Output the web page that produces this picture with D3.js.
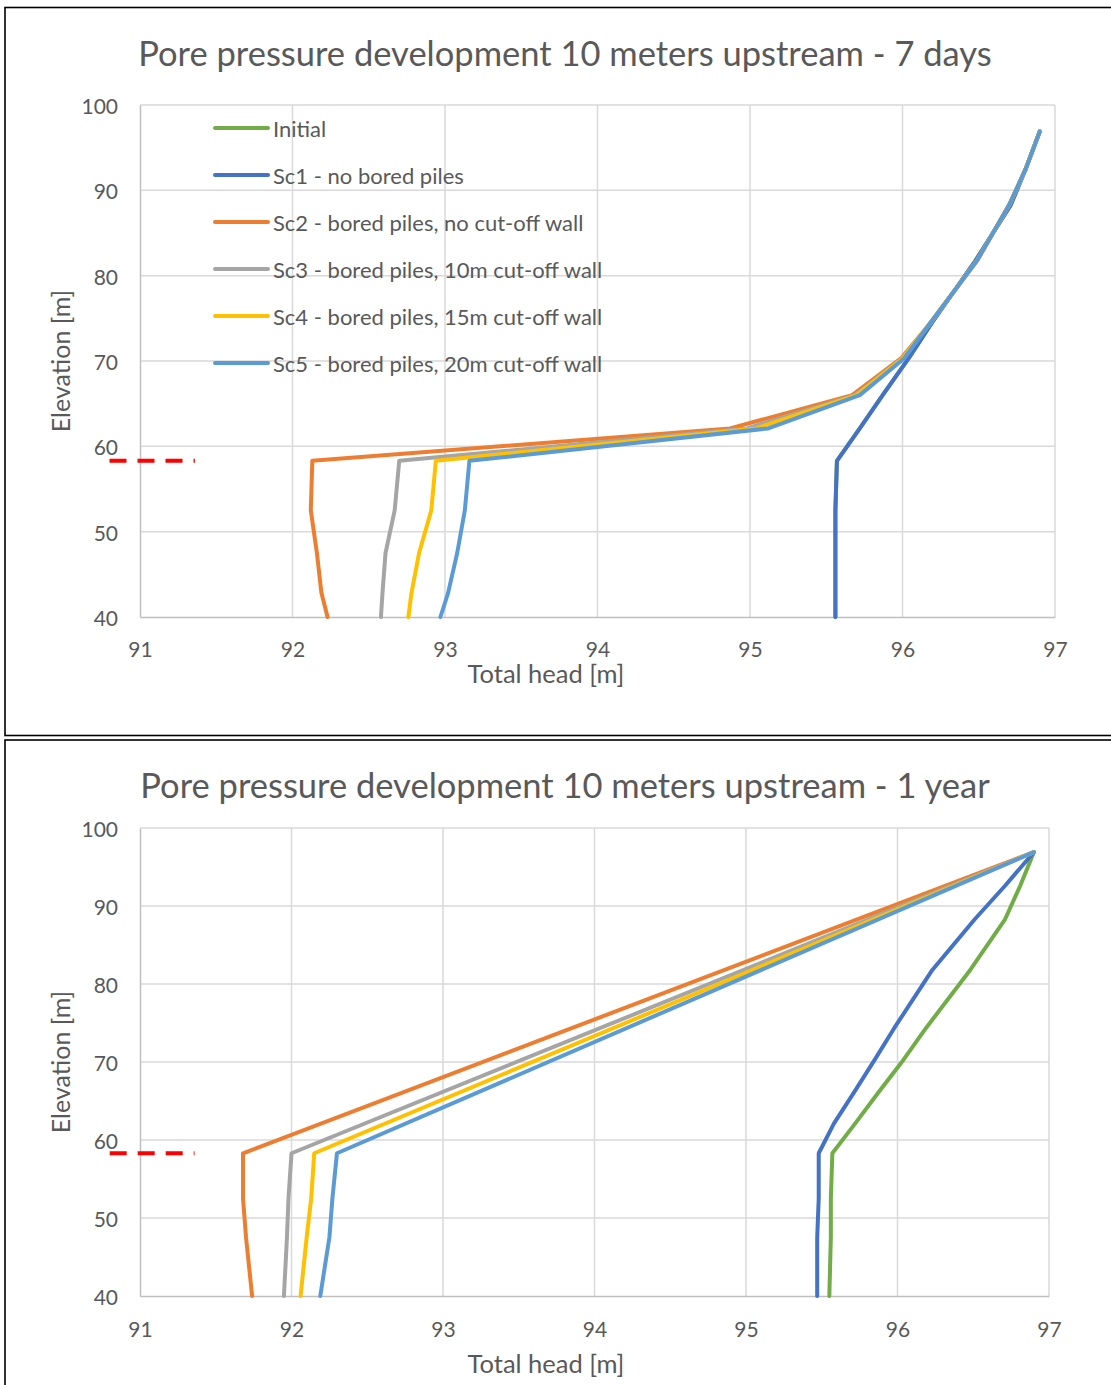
<!DOCTYPE html>
<html>
<head>
<meta charset="utf-8">
<script src="https://cdn.jsdelivr.net/npm/d3@7"></script>
<style>
  body { margin: 0; background: #fff; }
  svg { display: block; }
  text { font-family: Lato, "Open Sans", sans-serif; fill: #595959; }
</style>
</head>
<body>
<svg id="chart" width="1111" height="1385"></svg>
<script>
// Axis ticks shared by both panels
const headTicks = [91, 92, 93, 94, 95, 96, 97];
const elevTicks = [40, 50, 60, 70, 80, 90, 100];

// Series names and colours
const seriesNames = [
  "Initial",
  "Sc1 - no bored piles",
  "Sc2 - bored piles, no cut-off wall",
  "Sc3 - bored piles, 10m cut-off wall",
  "Sc4 - bored piles, 15m cut-off wall",
  "Sc5 - bored piles, 20m cut-off wall"
];
const seriesColors = ["#70AD47", "#4472C4", "#ED7D31", "#A5A5A5", "#FFC000", "#5B9BD5"];

// 7 days: elevation [m] and total head [m]
const elev7d = [40, 42.8, 47.5, 52.5, 58.3, 62.1, 66.0, 70.3, 74.4, 81.8, 88.3, 92.6, 96.9];
const initial7d = [95.56, 95.56, 95.56, 95.56, 95.57, 95.72, 95.87, 96.04, 96.19, 96.48, 96.71, 96.81, 96.90];
const sc1_7d    = [95.56, 95.56, 95.56, 95.56, 95.57, 95.72, 95.87, 96.04, 96.19, 96.48, 96.71, 96.81, 96.90];
const sc2_7d    = [92.23, 92.19, 92.16, 92.12, 92.13, 94.87, 95.67, 95.99, 96.18, 96.49, 96.70, 96.81, 96.90];
const sc3_7d    = [92.58, 92.59, 92.61, 92.67, 92.70, 94.98, 95.69, 96.00, 96.18, 96.49, 96.70, 96.81, 96.90];
const sc4_7d    = [92.76, 92.78, 92.83, 92.91, 92.94, 95.04, 95.70, 96.00, 96.18, 96.49, 96.70, 96.81, 96.90];
const sc5_7d    = [92.97, 93.02, 93.08, 93.13, 93.16, 95.12, 95.72, 96.01, 96.18, 96.49, 96.70, 96.81, 96.90];

// 1 year: elevation [m] and total head [m]
const elev1y = [40, 47.5, 52.5, 58.3, 62.1, 66.0, 70.3, 74.4, 81.8, 88.3, 92.6, 96.9];
const initial1y = [95.55, 95.56, 95.56, 95.57, 95.72, 95.87, 96.04, 96.19, 96.48, 96.71, 96.81, 96.90];
const sc1_1y    = [95.47, 95.47, 95.48, 95.48, 95.58, 95.71, 95.85, 95.98, 96.23, 96.51, 96.71, 96.90];
const elevPiles1y = [40, 47.5, 52.5, 58.3, 96.9];
const sc2_1y    = [91.74, 91.70, 91.68, 91.68, 96.90];
const sc3_1y    = [91.95, 91.97, 91.98, 92.00, 96.90];
const sc4_1y    = [92.06, 92.10, 92.13, 92.15, 96.90];
const sc5_1y    = [92.19, 92.25, 92.27, 92.30, 96.90];

// Marker for the toe elevation drawn left of the axis
const toeElevation = 58.3;
const toeHeadRange = [90.80, 91.36];

const svg = d3.select("#chart");

function zip(heads, elevs) {
  return heads.map((h, i) => ({ head: h, elev: elevs[i] }));
}

function drawPanel(cfg) {
  const g = svg.append("g");

  // panel frame
  g.append("rect")
    .attr("x", 5).attr("y", cfg.frameTop)
    .attr("width", 1130).attr("height", cfg.frameHeight)
    .attr("fill", "none").attr("stroke", "#000").attr("stroke-width", 1.6);

  const x = d3.scaleLinear().domain([91, 97]).range([cfg.left, cfg.right]);
  const y = d3.scaleLinear().domain([40, 100]).range([cfg.bottom, cfg.top]);

  // gridlines
  const grid = g.append("g");
  grid.selectAll("line.v").data(headTicks.slice(1)).join("line")
    .attr("x1", d => x(d)).attr("x2", d => x(d))
    .attr("y1", y(40)).attr("y2", y(100))
    .attr("stroke", "#d9d9d9").attr("stroke-width", 1.5);
  grid.selectAll("line.h").data(elevTicks.slice(1)).join("line")
    .attr("x1", x(91)).attr("x2", x(97))
    .attr("y1", d => y(d)).attr("y2", d => y(d))
    .attr("stroke", "#d9d9d9").attr("stroke-width", 1.5);

  // axes lines and labels
  const xAxis = d3.axisBottom(x).tickValues(headTicks).tickSize(0).tickPadding(0).tickFormat(d3.format("d"));
  const yAxis = d3.axisLeft(y).tickValues(elevTicks).tickSize(0).tickPadding(0).tickFormat(d3.format("d"));

  const gx = g.append("g").attr("transform", `translate(0,${y(40)})`).call(xAxis);
  gx.select(".domain").attr("stroke", "#bfbfbf").attr("stroke-width", 1.5);
  gx.selectAll("text").attr("font-size", 21).attr("fill", "#595959")
    .attr("dy", null).attr("y", cfg.xTickOffset).attr("dominant-baseline", "central");

  const gy = g.append("g").attr("transform", `translate(${x(91)},0)`).call(yAxis);
  gy.select(".domain").attr("stroke", "#bfbfbf").attr("stroke-width", 1.5);
  gy.selectAll("text").attr("font-size", 21).attr("fill", "#595959")
    .attr("dy", null).attr("x", -22).attr("dominant-baseline", "central");
  gy.selectAll(".tick line").remove();
  gx.selectAll(".tick line").remove();

  // titles
  g.append("text").attr("x", 565).attr("y", cfg.titleY)
    .attr("text-anchor", "middle").attr("dominant-baseline", "central")
    .attr("font-size", 34.5).text(cfg.title);
  g.append("text").attr("x", 546).attr("y", cfg.xTitleY)
    .attr("text-anchor", "middle").attr("dominant-baseline", "central")
    .attr("font-size", 25.5).text("Total head [m]");
  g.append("text")
    .attr("transform", `translate(60,${(y(40) + y(100)) / 2}) rotate(-90)`)
    .attr("text-anchor", "middle").attr("dominant-baseline", "central")
    .attr("font-size", 25).text("Elevation [m]");

  // toe marker
  g.append("line")
    .attr("x1", x(toeHeadRange[0])).attr("x2", x(toeHeadRange[1]))
    .attr("y1", y(toeElevation)).attr("y2", y(toeElevation))
    .attr("stroke", "#ff0000").attr("stroke-width", 4)
    .attr("stroke-dasharray", "17,11");

  // series
  const line = d3.line().x(d => x(d.head)).y(d => y(d.elev));
  g.append("g").selectAll("path").data(cfg.series).join("path")
    .attr("d", d => line(zip(d.head, d.elev)))
    .attr("fill", "none")
    .attr("stroke", d => d.color)
    .attr("stroke-width", 4)
    .attr("stroke-linejoin", "round")
    .attr("stroke-linecap", "round");

  // legend
  if (cfg.legend) {
    const lg = g.append("g");
    const items = lg.selectAll("g").data(cfg.series).join("g")
      .attr("transform", (d, i) => `translate(215,${128 + i * 47})`);
    items.append("line").attr("x1", 0).attr("x2", 53)
      .attr("stroke", d => d.color).attr("stroke-width", 4).attr("stroke-linecap", "round");
    items.append("text").attr("x", 58).attr("dominant-baseline", "central")
      .attr("font-size", 22).text(d => d.name);
  }
}

drawPanel({
  frameTop: 7.5, frameHeight: 728,
  left: 140, right: 1055, top: 105, bottom: 617,
  title: "Pore pressure development 10 meters upstream - 7 days",
  titleY: 52, xTickOffset: 31, xTitleY: 673, legend: true,
  series: [
    { name: seriesNames[0], color: seriesColors[0], head: initial7d, elev: elev7d },
    { name: seriesNames[1], color: seriesColors[1], head: sc1_7d, elev: elev7d },
    { name: seriesNames[2], color: seriesColors[2], head: sc2_7d, elev: elev7d },
    { name: seriesNames[3], color: seriesColors[3], head: sc3_7d, elev: elev7d },
    { name: seriesNames[4], color: seriesColors[4], head: sc4_7d, elev: elev7d },
    { name: seriesNames[5], color: seriesColors[5], head: sc5_7d, elev: elev7d }
  ]
});

drawPanel({
  frameTop: 740, frameHeight: 700,
  left: 140, right: 1049, top: 828, bottom: 1296,
  title: "Pore pressure development 10 meters upstream - 1 year",
  titleY: 784, xTickOffset: 32, xTitleY: 1363, legend: false,
  series: [
    { name: seriesNames[0], color: seriesColors[0], head: initial1y, elev: elev1y },
    { name: seriesNames[1], color: seriesColors[1], head: sc1_1y, elev: elev1y },
    { name: seriesNames[2], color: seriesColors[2], head: sc2_1y, elev: elevPiles1y },
    { name: seriesNames[3], color: seriesColors[3], head: sc3_1y, elev: elevPiles1y },
    { name: seriesNames[4], color: seriesColors[4], head: sc4_1y, elev: elevPiles1y },
    { name: seriesNames[5], color: seriesColors[5], head: sc5_1y, elev: elevPiles1y }
  ]
});
</script>
</body>
</html>
